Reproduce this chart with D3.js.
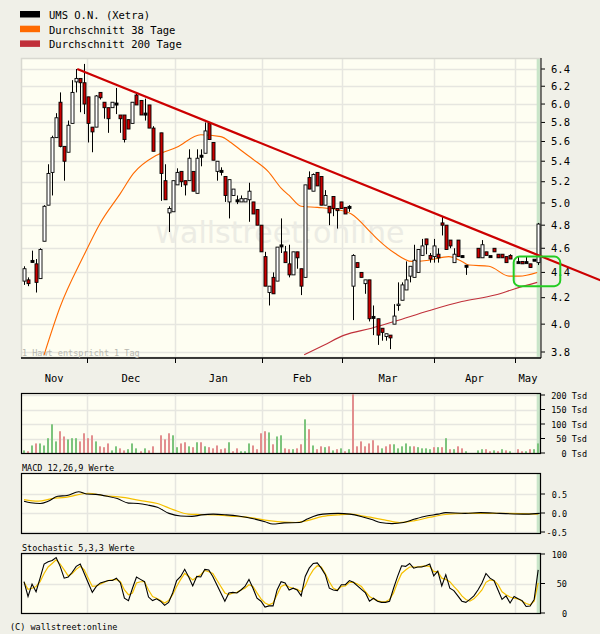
<!DOCTYPE html>
<html><head><meta charset="utf-8">
<script src="https://cdn.jsdelivr.net/npm/d3@7"></script>
<style>body{margin:0;background:#f0f0e8}svg{display:block}text{font-family:"DejaVu Sans Mono",monospace}</style>
</head><body><svg id="c" width="600" height="634"></svg>
<script>
// ---- data (index = trading day, null = no trading) ----
const monthNames = ["Nov","Dec","Jan","Feb","Mar","Apr","May"];
const monthStarts = [15.75,37.5,59.25,79.25,102,122.25];
const priceTicks = [6.4,6.2,6.0,5.8,5.6,5.4,5.2,5.0,4.8,4.6,4.4,4.2,4.0,3.8];
const openV = [4.33,4.34,4.49,4.47,4.35,4.66,4.98,5.29,5.64,6.02,5.55,5.49,5.79,6.25,6.29,6.24,6.08,5.75,5.75,6.13,6.02,5.96,5.96,6.00,5.88,5.88,5.83,5.79,6.10,6.04,5.89,5.99,5.74,null,5.69,5.21,4.91,4.92,5.17,5.30,5.21,5.21,5.30,5.09,5.45,5.48,5.79,5.59,5.30,5.30,5.25,5.01,5.07,5.02,5.01,5.01,5.03,5.01,4.94,4.80,4.53,4.24,4.36,4.33,4.62,4.57,4.47,4.38,4.57,4.43,4.36,5.24,5.11,5.29,5.25,4.98,4.97,5.06,4.95,5.01,4.96,4.96,4.29,4.48,4.40,4.31,4.34,4.05,4.04,3.97,3.91,3.92,4.00,4.14,4.18,4.26,4.37,4.36,4.40,4.54,4.68,4.54,4.53,4.55,4.82,4.80,4.67,4.48,4.67,4.53,4.45,null,null,4.60,4.52,4.57,4.53,4.60,4.55,4.55,4.53,4.54,null,4.48,4.49,4.48,4.47,4.50,4.48];
const highV = [4.45,4.36,4.58,4.51,4.60,4.98,5.37,5.66,5.90,6.13,5.55,5.82,6.27,6.40,6.29,6.46,6.08,5.75,6.10,6.13,6.02,5.96,6.02,6.18,5.88,5.88,5.83,6.02,6.13,6.04,6.06,5.99,5.76,null,5.69,5.37,4.97,5.21,5.33,5.30,5.21,5.52,5.30,5.52,5.52,5.80,5.80,5.59,5.40,5.34,5.25,5.22,5.13,5.07,5.07,5.04,5.19,5.01,4.94,4.80,4.57,4.29,4.40,4.61,4.86,4.62,4.63,4.57,4.57,4.43,5.17,5.30,5.28,5.29,5.25,5.12,4.97,5.06,4.95,5.01,4.96,4.98,4.55,4.48,4.40,4.34,4.34,4.14,4.04,3.97,3.93,3.92,4.15,4.32,4.32,4.49,4.45,4.63,4.59,4.68,4.68,4.56,4.68,4.60,4.88,4.80,4.67,4.60,4.67,4.54,4.46,null,null,4.60,4.67,4.57,4.53,4.60,4.55,4.55,4.53,4.55,null,4.53,4.49,4.53,4.47,4.50,4.82];
const lowV = [4.30,4.29,4.48,4.24,4.35,4.66,4.98,5.07,5.64,5.54,5.21,5.49,5.79,6.13,5.91,5.89,5.59,5.49,5.75,6.05,5.84,5.69,5.96,5.89,5.69,5.59,5.73,5.79,5.99,5.88,5.82,5.74,5.50,null,5.02,5.03,4.74,4.92,5.17,5.15,5.07,5.21,5.11,5.09,5.35,5.48,5.62,5.41,5.21,5.26,5.01,4.86,5.07,4.99,5.01,5.01,4.83,4.90,4.80,4.57,4.29,4.14,4.23,4.33,4.56,4.48,4.36,4.38,4.43,4.22,4.36,5.13,5.11,5.16,4.98,4.98,4.80,4.88,4.77,4.95,4.90,4.92,4.03,4.44,4.36,4.23,4.02,3.92,3.85,3.88,3.88,3.82,4.00,4.10,4.18,4.26,4.32,4.36,4.40,4.54,4.55,4.48,4.48,4.48,4.71,4.59,4.60,4.48,4.53,4.52,4.38,null,null,4.52,4.52,4.54,4.53,4.57,4.52,4.52,4.48,4.51,null,4.48,4.47,4.48,4.44,4.50,4.46];
const closeV = [4.43,4.31,4.49,4.32,4.59,4.97,5.28,5.64,5.85,5.55,5.40,5.77,6.13,6.29,6.24,6.00,5.79,5.70,6.09,6.07,5.96,5.84,6.02,6.00,5.84,5.62,5.73,6.02,5.99,5.88,5.89,5.74,5.50,null,5.28,5.03,4.95,5.21,5.29,5.20,5.17,5.43,5.11,5.43,5.45,5.71,5.62,5.41,5.40,5.30,5.07,5.22,5.13,5.02,5.04,5.04,5.11,4.90,4.80,4.57,4.29,4.29,4.23,4.61,4.62,4.48,4.38,4.57,4.52,4.29,5.17,5.13,5.27,5.16,4.98,5.07,4.91,4.95,4.93,4.95,4.90,4.96,4.54,4.44,4.36,4.34,4.04,4.05,3.92,3.94,3.93,3.90,4.06,4.15,4.30,4.34,4.45,4.50,4.59,4.62,4.63,4.51,4.62,4.52,4.80,4.59,4.62,4.55,4.53,4.53,4.45,null,null,4.52,4.63,4.54,4.53,4.57,4.52,4.52,4.48,4.51,null,4.48,4.47,4.48,4.44,4.50,4.81];
const ma38Idx = [5,9,14.75,19,24,27.25,33,38,44,49,51.5,54,57,60.75,64,66,69,73,78,81.5,86.5,88.25,92.25,96.5,100.75,105.75,109,110.75,115.75,120.75,123.25,127.75];
const ma38Val = [3.78,4.13,4.53,4.82,5.09,5.28,5.46,5.54,5.67,5.65,5.59,5.51,5.42,5.30,5.14,5.07,4.97,4.96,4.94,4.90,4.73,4.67,4.56,4.49,4.50,4.53,4.49,4.46,4.45,4.37,4.37,4.40];
const ma200Idx = [69.75,74.75,79.75,86.5,92.25,100.75,109,117.25,122.25,127.75];
const ma200Val = [3.78,3.85,3.92,3.97,4.02,4.10,4.17,4.22,4.27,4.32];
const trendIdx = [13.25,144];
const trendVal = [6.40,4.33];
const boxIdx = [121.9,133.5];
const boxVal = [4.53,4.29];
const volume = [9,6,26,33,33,26,51,99,40,75,57,47,51,51,40,68,51,61,40,23,20,33,9,23,16,9,13,33,16,6,16,9,23,null,61,47,68,61,20,33,37,23,20,37,37,23,20,16,26,13,16,37,6,16,6,6,33,26,13,68,75,71,30,57,61,16,13,13,16,30,116,82,26,13,23,20,23,9,13,16,6,13,202,23,40,23,33,44,26,16,23,30,30,16,23,33,23,23,20,16,16,13,20,20,20,51,13,13,23,16,6,null,null,9,13,13,6,9,6,13,9,6,null,13,6,6,13,13,33];
const volColor = "gpgpgggggppgggppppgpppggppgggpgpp-pppggppgpgpgpppppgppgggppppgpggppgppgpgppgpgpgpgpppppppgppgggggpggggpgpgpgppg--ggppgpgpg-ppgpgg";
const volTicks = [200,150,100,50,0];
const macdIdx = [0,1.65,4,6,8.4,10.7,13.6,15.5,17.9,20.8,23.2,26,28.4,30.8,33.2,36.1,39,41.8,44.2,47.1,50.4,53.3,57.1,60,61.9,64.8,68.6,70.5,72,74.4,78.2,81.1,83.9,86.8,88.7,91.6,94.5,97.3,100.2,103.1,105,109.8,113.6,118.4,125.1,128.4];
const macdVal = [.31,.27,.25,.31,.44,.46,.56,.50,.49,.44,.38,.26,.25,.21,.15,-.01,-.08,-.09,-.05,-.03,-.05,-.08,-.15,-.23,-.29,-.26,-.25,-.16,-.09,-.03,-.01,-.03,-.09,-.18,-.25,-.28,-.25,-.16,-.08,-.03,.01,-.01,.01,-.01,-.03,-.01];
const sigIdx = [0,3.6,6.9,10.3,16,19.8,24.6,29.4,33.2,37.1,40.9,43.8,47.6,51.4,56.2,61,64.8,67.7,70.5,74.4,78.2,81.1,84.9,89.7,93.5,97.3,101.2,105,109.8,118.4,128];
const sigVal = [.35,.31,.38,.41,.52,.46,.41,.32,.25,.09,-.03,-.04,-.05,-.08,-.12,-.20,-.24,-.25,-.20,-.09,-.05,-.03,-.09,-.18,-.25,-.20,-.11,-.04,-.01,-.01,-.03];
const macdTicks = [0.5,0.0,-0.5];
const stochK = [53,28,49,36,59,83,87,89,94,79,59,61,69,79,83,67,51,35,45,51,53,55,55,59,51,25,21,42,61,57,53,27,21,24,20,13,18,34,55,62,74,61,46,62,61,74,73,62,48,34,20,34,35,34,39,45,57,42,25,20,10,12,12,39,53,51,39,42,39,29,62,76,84,85,76,65,42,39,38,48,48,55,52,46,40,34,20,25,20,18,18,20,42,62,80,79,84,76,78,78,80,83,63,71,46,65,42,38,29,20,18,23,29,39,51,67,59,55,39,23,29,17,28,24,21,11,12,23,73];
const stochD = [52,40,42,45,53,67,78,84,90,83,73,63,67,74,79,73,59,45,46,49,52,55,56,57,53,39,31,34,51,53,53,39,28,25,21,17,21,31,45,57,67,62,56,61,65,72,70,67,56,45,34,31,34,35,39,42,48,45,34,24,17,14,17,31,45,48,44,42,40,36,46,62,73,80,78,67,53,42,39,45,46,52,52,49,45,36,28,24,21,19,19,23,34,52,67,73,78,78,78,79,80,79,70,70,59,57,53,45,38,29,23,20,24,31,39,52,56,55,48,36,31,27,25,24,20,16,14,20,51];
const stochTicks = [100,50,0];

// ---- drawing ----
const svg = d3.select("#c");
const L = 21, R = 541;
const x = d3.scaleLinear().domain([-0.75,128.7]).range([L,R]);
const yP = d3.scaleLog().domain([3.8,6.4]).range([352,69]);
const yV = d3.scaleLinear().domain([0,200]).range([453,395]);
const yM = d3.scaleLinear().domain([0,0.5]).range([513,494]);
const yS = d3.scaleLinear().domain([0,100]).range([613,554]);
const plotBg = "#fefef2", grid = "#e6e6e0";
const N = openV.length;

// legend
const leg = [["UMS O.N. (Xetra)","#000"],["Durchschnitt 38 Tage","#ff6a00"],["Durchschnitt 200 Tage","#c0303a"]];
leg.forEach((d,i)=>{
  svg.append("rect").attr("x",20).attr("y",11+i*14.7).attr("width",20).attr("height",6.5).attr("fill",d[1]);
  svg.append("text").attr("x",49).attr("y",19+i*14.7).attr("font-size",10.5).text(d[0]);
});

function panel(top,bottom,hTicks,yScale,lblFn,lblX,fs){
  const g = svg.append("g");
  g.append("rect").attr("x",L).attr("y",top).attr("width",R-L).attr("height",bottom-top).attr("fill",plotBg);
  g.selectAll(".hg").data(hTicks).join("line").attr("x1",L).attr("x2",R)
    .attr("y1",d=>Math.round(yScale(d))+0.5).attr("y2",d=>Math.round(yScale(d))+0.5).attr("stroke",grid).attr("stroke-width",1.5);
  g.selectAll(".vg").data(monthStarts).join("line").attr("y1",top).attr("y2",bottom)
    .attr("x1",d=>Math.round(x(d))+0.5).attr("x2",d=>Math.round(x(d))+0.5).attr("stroke",grid).attr("stroke-width",1.5);
  g.append("rect").attr("x",x(128)-1.5).attr("y",top).attr("width",R-x(128)+1.5).attr("height",bottom-top).attr("fill","#c9e6c9");
  g.selectAll(".tk").data(hTicks).join("line").attr("x1",R).attr("x2",R+4)
    .attr("y1",d=>yScale(d)).attr("y2",d=>yScale(d)).attr("stroke","#000");
  g.selectAll(".tl").data(hTicks).join("text").attr("x",lblX).attr("y",d=>yScale(d)+3.5)
    .attr("text-anchor","end").attr("font-size",fs).text(lblFn);
  return g;
}
function frame(top,bottom,full){
  svg.append("rect").attr("x",L+0.5).attr("y",top+0.5).attr("width",R-L-1).attr("height",bottom-top-1)
    .attr("fill","none").attr("stroke",full?"#000":"#d8d8d0").attr("stroke-width",full?1.2:1.5);
}

// main panel
panel(58,358,priceTicks,yP,d=>d.toFixed(1),570,10.5);
frame(58,358,false);
svg.append("line").attr("x1",L).attr("x2",R).attr("y1",358).attr("y2",358).attr("stroke","#000").attr("stroke-width",1.5);
svg.append("line").attr("x1",R).attr("x2",R).attr("y1",58).attr("y2",358).attr("stroke","#000");
svg.append("text").attr("x",280).attr("y",243).attr("text-anchor","middle").attr("font-family","DejaVu Sans, sans-serif")
  .attr("font-size",30).attr("fill","#ecece4").style("font-family","'DejaVu Sans',sans-serif").text("wallstreet:online");
svg.append("text").attr("x",22).attr("y",356).attr("font-size",8.5).attr("fill","#b8b8b0").text("1 Hawt entspricht 1 Tag");

// moving averages
const line = d3.line().x(d=>x(d[0])).y(d=>yP(d[1])).curve(d3.curveMonotoneX);
svg.append("path").attr("d",line(ma200Idx.map((d,i)=>[d,ma200Val[i]]))).attr("fill","none").attr("stroke","#c0303a").attr("stroke-width",1.1);
svg.append("path").attr("d",line(ma38Idx.map((d,i)=>[d,ma38Val[i]]))).attr("fill","none").attr("stroke","#ff6a00").attr("stroke-width",1.1);

// candles
const idx = d3.range(N).filter(i=>openV[i]!==null);
const cg = svg.append("g");
cg.selectAll(".w").data(idx).join("line").attr("x1",i=>Math.round(x(i))+0.5).attr("x2",i=>Math.round(x(i))+0.5)
  .attr("y1",i=>yP(highV[i])).attr("y2",i=>yP(lowV[i])).attr("stroke","#000");
cg.selectAll(".b").data(idx).join("rect")
  .attr("x",i=>Math.round(x(i))-1).attr("width",3)
  .attr("y",i=>Math.abs(openV[i]-closeV[i])<0.005? yP(closeV[i])-1 : yP(Math.max(openV[i],closeV[i])))
  .attr("height",i=>Math.abs(openV[i]-closeV[i])<0.005? 2 : Math.max(1,yP(Math.min(openV[i],closeV[i]))-yP(Math.max(openV[i],closeV[i]))))
  .attr("fill",i=>Math.abs(openV[i]-closeV[i])<0.005?"#000":(closeV[i]>openV[i]?"#fff":"#cc0000"))
  .attr("stroke","#000").attr("stroke-width",0.9);

// trend line & highlight box
svg.append("line").attr("x1",x(trendIdx[0])).attr("y1",yP(trendVal[0])).attr("x2",x(trendIdx[1])).attr("y2",yP(trendVal[1]))
  .attr("stroke","#cc0000").attr("stroke-width",2.2);
svg.append("rect").attr("x",x(boxIdx[0])).attr("y",yP(boxVal[0])).attr("width",x(boxIdx[1])-x(boxIdx[0]))
  .attr("height",yP(boxVal[1])-yP(boxVal[0])).attr("rx",6).attr("fill","none").attr("stroke","#22cc22").attr("stroke-width",2);

// month axis
svg.selectAll(".mt").data(monthStarts).join("line").attr("x1",d=>Math.round(x(d))+0.5).attr("x2",d=>Math.round(x(d))+0.5)
  .attr("y1",358).attr("y2",363).attr("stroke","#000");
const bounds = [L].concat(monthStarts.map(d=>x(d))).concat([R]);
svg.selectAll(".ml").data(monthNames).join("text").attr("x",(d,i)=>(bounds[i]+bounds[i+1])/2).attr("y",382)
  .attr("text-anchor","middle").attr("font-size",10.5).text(d=>d);

// volume
panel(393,454,volTicks,yV,d=>d+" Tsd",587,8.5);
svg.append("g").selectAll("rect").data(d3.range(N).filter(i=>volume[i]!==null)).join("rect")
  .attr("x",i=>Math.round(x(i))-1).attr("width",2).attr("y",i=>yV(volume[i])).attr("height",i=>yV(0)-yV(volume[i]))
  .attr("fill",i=>volColor[i]==="g"?"#7cc47c":"#e28e8e");
frame(393,454,true);

// MACD
svg.append("text").attr("x",22).attr("y",471).attr("font-size",8.5).text("MACD 12,26,9 Werte");
panel(473,534,macdTicks,yM,d=>d.toFixed(1),567,8.5);
const lm = d3.line().x(d=>x(d[0])).y(d=>yM(d[1])).curve(d3.curveMonotoneX);
svg.append("path").attr("d",lm(sigIdx.map((d,i)=>[d,sigVal[i]]))).attr("fill","none").attr("stroke","#f5c000").attr("stroke-width",1.2);
svg.append("path").attr("d",lm(macdIdx.map((d,i)=>[d,macdVal[i]]))).attr("fill","none").attr("stroke","#000").attr("stroke-width",1.1);
frame(473,534,true);

// Stochastic
svg.append("text").attr("x",22).attr("y",551).attr("font-size",8.5).text("Stochastic 5,3,3 Werte");
panel(553,614,stochTicks,yS,d=>d,567,8.5);
const ls = d3.line().x(d=>x(d[0])).y(d=>yS(d[1]));
svg.append("path").attr("d",ls(stochD.map((d,i)=>[i,d]))).attr("fill","none").attr("stroke","#f5c000").attr("stroke-width",1.2);
svg.append("path").attr("d",ls(stochK.map((d,i)=>[i,d]))).attr("fill","none").attr("stroke","#000").attr("stroke-width",1.1);
frame(553,614,true);

svg.append("text").attr("x",10).attr("y",630).attr("font-size",8.5).text("(C) wallstreet:online");
</script></body></html>
